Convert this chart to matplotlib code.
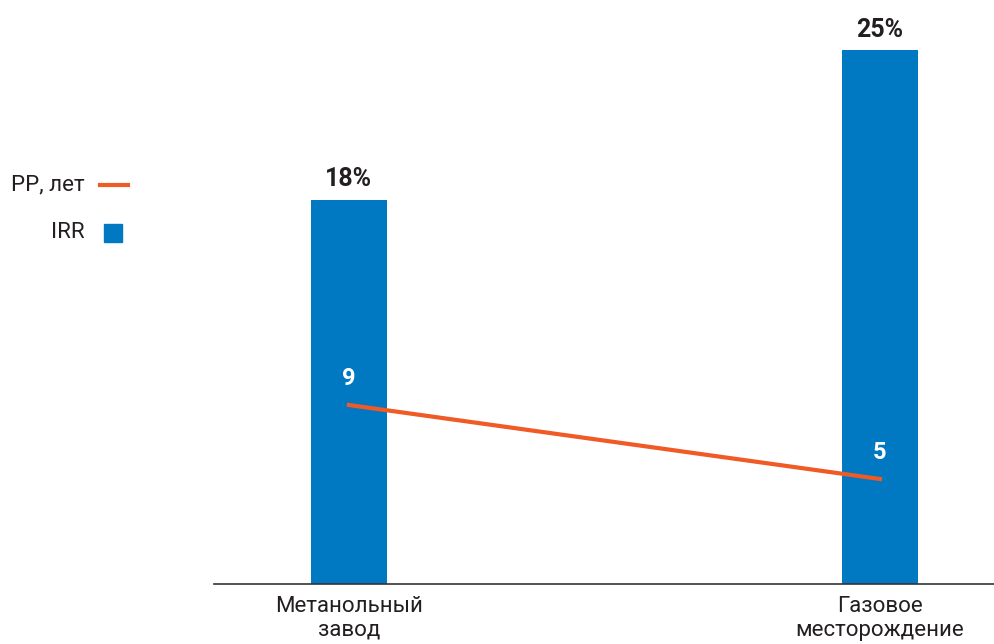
import matplotlib
matplotlib.use("Agg")
import matplotlib.pyplot as plt
from matplotlib.lines import Line2D

categories = ["Метанольный\nзавод", "Газовое\nместорождение"]
irr = [18, 25]
pp_years = [9, 5]

blue = "#0079C2"
orange = "#F05A24"
dark = "#231F20"

plt.rcParams["font.family"] = ["Roboto", "DejaVu Sans"]

fig = plt.figure(figsize=(9.95, 6.44), dpi=100)
ax = fig.add_axes([214 / 995, 60 / 644, 781 / 995, 554 / 644])

x = list(range(len(categories)))
ax.bar(x, irr, width=0.143, color=blue, zorder=2)
ax.set_xlim(-0.254, 1.2166)
ax.set_ylim(0, 25.94)

for xi, v in zip(x, irr):
    ax.annotate(f"{v}%", (xi, v), xytext=(0, 6), textcoords="offset points",
                ha="center", va="bottom", fontsize=18, fontweight="bold", color=dark)

ax2 = ax.twinx()
ax2.set_ylim(-0.676, 29.27)
ax2.plot(x, pp_years, color=orange, lw=3, zorder=3)
for xi, v in zip(x, pp_years):
    ax2.annotate(str(v), (xi, v), xytext=(0, 11), textcoords="offset points",
                 ha="center", va="bottom", fontsize=17, fontweight="bold", color="white")

for a in (ax, ax2):
    for s in ("top", "right", "left"):
        a.spines[s].set_visible(False)
    a.set_yticks([])
ax.spines["bottom"].set_color("#333333")
ax.spines["bottom"].set_linewidth(1.2)
ax2.spines["bottom"].set_visible(False)

ax.set_xticks(x)
ax.set_xticklabels(categories, fontsize=16, color=dark, linespacing=1.15)
ax.tick_params(axis="x", length=0, pad=9)

# legend drawn by hand on the figure
W, H = 995, 644
fig.text(85 / W, 1 - 185 / H, "PP, лет", ha="right", va="center", fontsize=16, color=dark)
fig.text(85 / W, 1 - 233 / H, "IRR", ha="right", va="center", fontsize=16, color=dark)
fig.add_artist(Line2D([100 / W, 128 / W], [1 - 185 / H, 1 - 185 / H], color=orange, lw=3,
                      transform=fig.transFigure))
fig.add_artist(Line2D([113 / W], [1 - 233 / H], marker="s", markersize=13, color=blue,
                      linestyle="none", transform=fig.transFigure))

fig.savefig("out.png", dpi=100)
